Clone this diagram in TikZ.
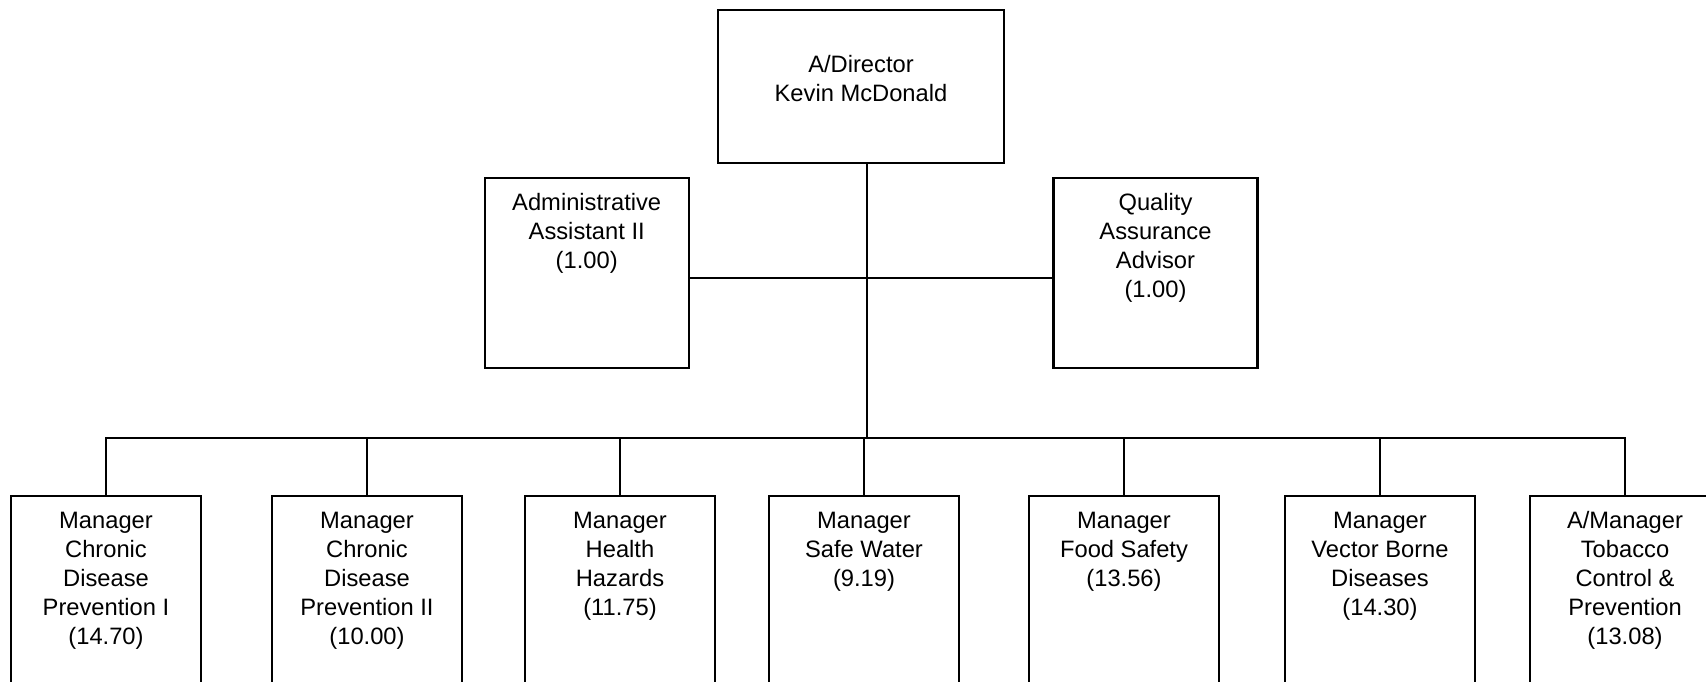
\documentclass[tikz,border=0pt]{standalone}
\usepackage{fontspec}
\setmainfont{Liberation Sans}

\tikzset{
  post/.style={draw, line width=1.3pt, minimum width=3.8cm, minimum height=4.8cm, inner sep=0pt},
  posttext/.style={anchor=north, align=center, inner sep=0pt, yshift=-0.33cm,
    font=\fontsize{13.5}{16.5}\selectfont},
  conn/.style={line width=0.6pt},
}

\begin{document}
\begin{tikzpicture}[x=0.02cm, y=-0.02cm]
\useasboundingbox (0,0) rectangle (1706,681);

% top level
\node[post, minimum width=5.72cm, minimum height=3.06cm,
  label={[posttext, yshift=-0.59cm]north:A/Director\\Kevin McDonald}] (dir) at (861,86.5) {};

% staff positions
\node[post, minimum width=4.08cm, minimum height=3.8cm,
  label={[posttext]north:Administrative\\Assistant II\\(1.00)}] (admin) at (586.7,273) {};
\node[post, minimum width=4.08cm, minimum height=3.8cm,
  label={[posttext]north:Quality\\Assurance\\Advisor\\(1.00)}] (qa) at (1155.5,273) {};

% program managers
\node[post, label={[posttext]north:Manager\\Chronic\\Disease\\Prevention I\\(14.70)}] (cdp1) at (106,616) {};
\node[post, label={[posttext]north:Manager\\Chronic\\Disease\\Prevention II\\(10.00)}] (cdp2) at (367,616) {};
\node[post, label={[posttext]north:Manager\\Health\\Hazards\\(11.75)}] (hh) at (620,616) {};
\node[post, label={[posttext]north:Manager\\Safe Water\\(9.19)}] (sw) at (864,616) {};
\node[post, label={[posttext]north:Manager\\Food Safety\\(13.56)}] (fs) at (1124,616) {};
\node[post, label={[posttext]north:Manager\\Vector Borne\\Diseases\\(14.30)}] (vbd) at (1380,616) {};
\node[post, label={[posttext]north:A/Manager\\Tobacco\\Control \&\\Prevention\\(13.08)}] (tcp) at (1625,616) {};

\coordinate (hub) at (867,438);
\coordinate (mid) at (867,278);

\path[draw,conn] (dir.south -| hub) -- (hub);
\path[draw,conn] (mid -| admin.east) -- (mid -| qa.west);

\path[draw,conn] (hub) -| (cdp1.north);
\path[draw,conn] (hub) -| (cdp2.north);
\path[draw,conn] (hub) -| (hh.north);
\path[draw,conn] (hub) -| (sw.north);
\path[draw,conn] (hub) -| (fs.north);
\path[draw,conn] (hub) -| (vbd.north);
\path[draw,conn] (hub) -| (tcp.north);
\end{tikzpicture}
\end{document}
